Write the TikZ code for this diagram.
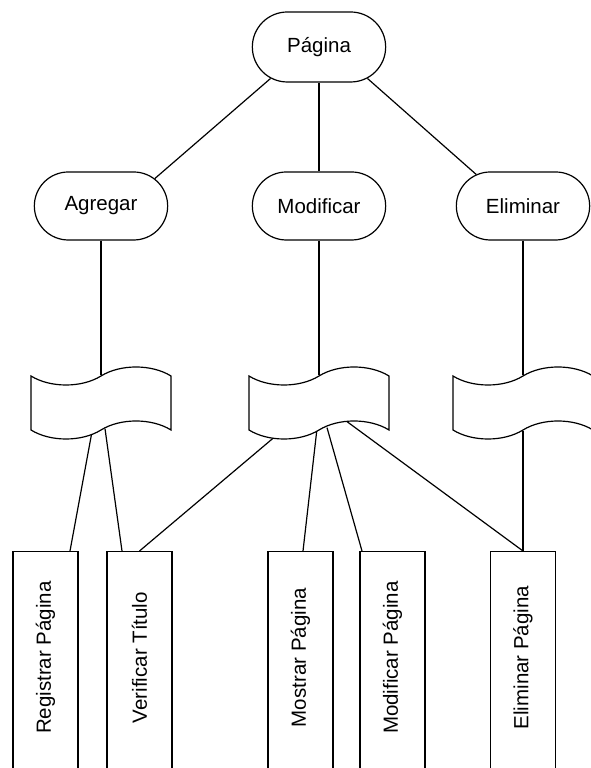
\documentclass[tikz,border=0pt]{standalone}
\usepackage{fontspec}
\setmainfont{Liberation Sans}
\usetikzlibrary{shapes.misc, shapes.symbols, backgrounds}

\tikzset{
  terminal/.style={draw, rounded rectangle, minimum width=140, minimum height=68},
  cinta/.style={draw, fill=white, tape, minimum width=140, minimum height=72,
    tape bend height=18},
  hoja/.style={draw, fill=white, anchor=north, minimum width=65, minimum height=250,
    text depth=38},
  enlace/.style={line width=1.2pt}
}

\begin{document}
\begin{tikzpicture}[x=1pt, y=1pt, line width=1.2pt,
  every node/.append style={font=\fontsize{20.5}{24}\selectfont}]

\useasboundingbox (0,0) rectangle (590,768);

\node [terminal, minimum height=70] (pagina) at (319,721) {Página};

\foreach \m/\l/\x in {agregar/Agregar/101, modificar/Modificar/319, eliminar/Eliminar/523}
  \node [terminal] (\m) at (\x,562) {\l};

\foreach \m/\x in {agregar/101, modificar/319, eliminar/523}
  \node [cinta] (cinta-\m) at (\x,365) {};

\foreach \m/\l/\x in {registrar/Registrar Página/45.5, verificar/Verificar Título/139.5,
    mostrar/Mostrar Página/300.5, cambiar/Modificar Página/392.5,
    borrar/Eliminar Página/523}
  \node [hoja] (\m) at (\x,217) {\rotatebox{90}{\l}};

\draw (pagina.213) -- (agregar.27);
\draw (pagina.south) -- (modificar.north);
\draw (pagina.327) -- (eliminar.146);

\foreach \m in {agregar, modificar, eliminar}
  \draw (\m.south) -- (cinta-\m.north);

% lineas inferiores, detras de las cintas
\begin{scope}[on background layer]
  \draw [enlace] ([xshift=-9, yshift=-1]cinta-agregar.south) -- ([xshift=24.5]registrar.north);
  \draw [enlace] ([xshift=4, yshift=2]cinta-agregar.south) -- ([xshift=-17.5]verificar.north);
  \draw [enlace] ([xshift=-44, yshift=-6]cinta-modificar.south) -- (verificar.north);
  \draw [enlace] ([xshift=-2, yshift=2]cinta-modificar.south) -- ([xshift=2.5]mostrar.north);
  \draw [enlace] ([xshift=8, yshift=3]cinta-modificar.south) -- ([xshift=-30.5]cambiar.north);
  \draw [enlace] ([xshift=28, yshift=9]cinta-modificar.south) -- (borrar.north);
  \draw [enlace] (cinta-eliminar.south) -- (borrar.north);
\end{scope}

\end{tikzpicture}
\end{document}
